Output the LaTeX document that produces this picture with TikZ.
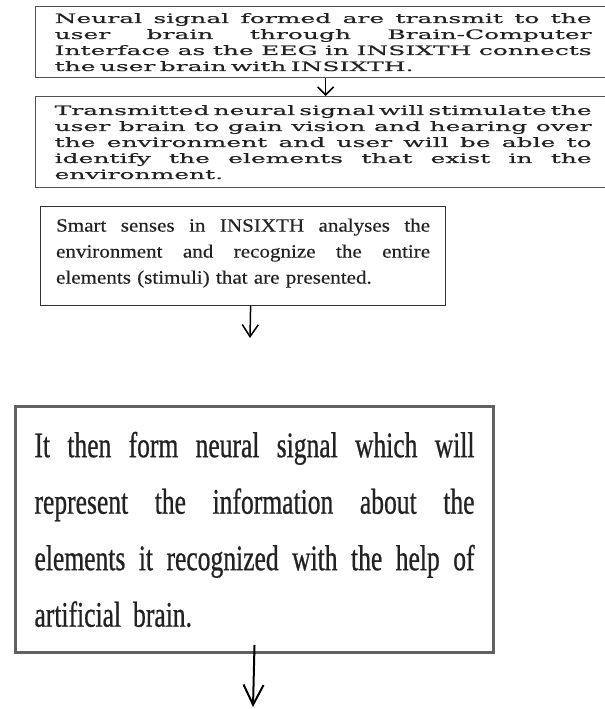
\documentclass[tikz,border=0pt]{standalone}
\usepackage{fontspec}
\usetikzlibrary{arrows.meta}
\newfontfamily\wideserif[FakeStretch=1.92,FakeBold=0.4]{DejaVu Serif}
\newfontfamily\timesA[FakeStretch=1.12,FakeBold=0.3]{Liberation Serif}
\newfontfamily\timesC[FakeStretch=0.71,FakeBold=0.6]{Liberation Serif}
\newcommand{\jl}[2]{\leavevmode\hbox to #1{\spaceskip=0.25em plus 1fil\relax #2}}
\definecolor{txtgray}{HTML}{222222}
\tikzset{
  widebox/.style={draw=black!68, line width=1.3bp, inner sep=0pt, anchor=north west,
    text=txtgray, align=left, text width=537bp,
    font=\wideserif\fontsize{13bp}{16bp}\selectfont},
  midbox/.style={draw=black!80, line width=1.2bp, inner sep=0pt, anchor=north west,
    text=txtgray, align=left, text width=374bp,
    font=\timesA\fontsize{18.8bp}{26bp}\selectfont},
  bigbox/.style={draw=black!62, line width=3bp, inner sep=0pt, anchor=north west,
    text=txtgray, align=left, text width=440bp,
    font=\timesC\fontsize{36bp}{56.5bp}\selectfont},
  arrsmall/.style={draw=black, line width=1.6bp, -{Straight Barb[length=8bp,width=16bp]}},
  arrmid/.style={draw=black, line width=1.5bp, -{Straight Barb[length=12bp,width=16bp]}},
  arrbig/.style={draw=black, line width=2bp, -{Straight Barb[length=20bp,width=20bp]}},
}
\begin{document}
\begin{tikzpicture}[x=1bp,y=-1bp]
\useasboundingbox[fill=white] (0,0) rectangle (605,709);

\node[widebox, minimum width=575bp, minimum height=71bp] (b1) at (35,6) {%
\jl{537bp}{Neural signal formed are transmit to the}\\
\jl{537bp}{user brain through Brain-Computer}\\
\jl{537bp}{Interface as the EEG in INSIXTH connects}\\
the user brain with INSIXTH.};

\node[widebox, minimum width=575bp, minimum height=91bp] (b2) at (35,96) {%
\jl{537bp}{Transmitted neural signal will stimulate the}\\
\jl{537bp}{user brain to gain vision and hearing over}\\
\jl{537bp}{the environment and user will be able to}\\
\jl{537bp}{identify the elements that exist in the}\\
environment.};

\node[midbox, minimum width=405bp, minimum height=99bp] (b3) at (40,206) {%
\jl{374bp}{Smart senses in INSIXTH analyses the}\\
\jl{374bp}{environment and recognize the entire}\\
elements (stimuli) that are presented.\vspace{6bp}};

\node[bigbox, minimum width=478bp, minimum height=246bp] (b4) at (14,405) {%
\jl{440bp}{It then form neural signal which will}\\
\jl{440bp}{represent the information about the}\\
\jl{440bp}{elements it recognized with the help of}\\
artificial brain.};

\coordinate (c3) at (250,338);
\coordinate (c4) at (253,707);

\draw[arrsmall] ([xshift=2.5bp]b1.south) -- ([xshift=2.5bp]b2.north);
\draw[arrmid] ([xshift=7.5bp]b3.south) -- (c3);
\draw[arrbig] ([yshift=9bp]b4.south) -- (c4);
\end{tikzpicture}
\end{document}
